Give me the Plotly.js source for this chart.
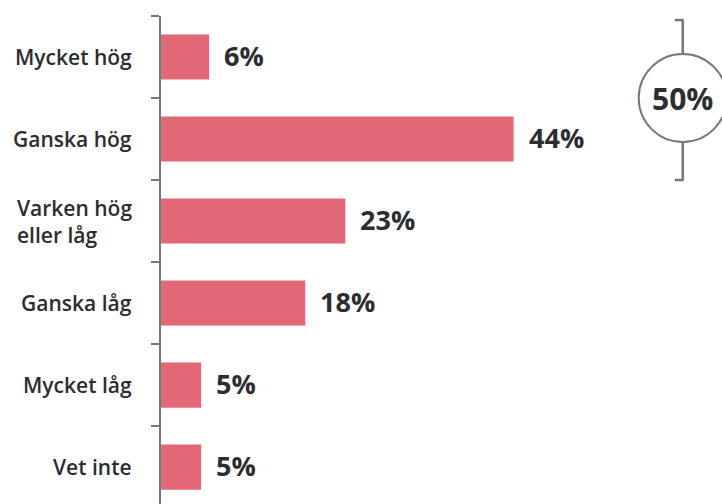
<!DOCTYPE html>
<html><head><meta charset="utf-8">
<script src="https://cdn.plot.ly/plotly-3.0.1.min.js"></script>
<style>body{margin:0;background:#fff}#chart{width:722px;height:504px}</style>
</head><body><div id="chart"></div>
<script>
const categories = ["Mycket hög", "Ganska hög", "Varken hög<br>eller låg", "Ganska låg", "Mycket låg", "Vet inte"];
const values = [6, 44, 23, 18, 5, 5];
const valueLabels = ["6%", "44%", "23%", "18%", "5%", "5%"];
const bracketLabel = "50%";

const FONT = "'Open Sans', Lato, sans-serif";
const DARK = "#2b2d30";
const GRAY = "#76797c";
const BAR = "#e36875";

const idx = categories.map((c,i)=>i);
const trace = {
  type: "bar", orientation: "h",
  x: values, y: idx,
  marker: {color: BAR},
  width: 0.55,
  hoverinfo: "skip"
};

const annotations = [];
categories.forEach((c,i)=>{
  annotations.push({xref:"paper", yref:"y", x:0, y:i, text:c, showarrow:false,
    xanchor:"right", yanchor:"middle", align:"left", xshift:-27,
    font:{family:FONT, size:21, color:DARK, weight:600}});
  annotations.push({xref:"x", yref:"y", x:values[i], y:i, text:valueLabels[i], showarrow:false,
    xanchor:"left", yanchor:"middle", xshift:13, yshift:2,
    font:{family:FONT, size:27, color:DARK, weight:700}});
});
const bx = 65.1;
annotations.push({xref:"x", yref:"y", x:bx, y:0.5, text:bracketLabel, showarrow:false,
  xanchor:"center", yanchor:"middle", font:{family:FONT, size:30, color:DARK, weight:700}});

const shapes = [
  {type:"line", xref:"x", yref:"y", x0:bx, x1:bx, y0:-0.45, y1:1.5, line:{color:GRAY, width:2.5}},
  {type:"line", xref:"x", yref:"y", xsizemode:"pixel", xanchor:bx, x0:-8, x1:1, y0:-0.45, y1:-0.45, line:{color:GRAY, width:2.5}},
  {type:"line", xref:"x", yref:"y", xsizemode:"pixel", xanchor:bx, x0:-8, x1:1, y0:1.5, y1:1.5, line:{color:GRAY, width:2.5}},
  {type:"circle", xref:"x", yref:"y", xsizemode:"pixel", ysizemode:"pixel", xanchor:bx, yanchor:0.5,
   x0:-44, x1:44, y0:-44, y1:44, fillcolor:"#ffffff", line:{color:GRAY, width:2}, layer:"above"}
];

const layout = {
  width:722, height:504,
  margin:{l:161, r:0, t:16, b:0},
  paper_bgcolor:"#fff", plot_bgcolor:"#fff",
  showlegend:false,
  xaxis:{range:[0,70], visible:false, fixedrange:true},
  yaxis:{type:"linear", range:[5.45,-0.5], showgrid:false, zeroline:false,
    showline:true, linecolor:GRAY, linewidth:2.5,
    tickmode:"array", tickvals:[-0.5,0.5,1.5,2.5,3.5,4.5,5.5], ticktext:["","","","","","",""],
    ticks:"outside", ticklen:8, tickwidth:2.5, tickcolor:GRAY, showticklabels:false},
  annotations, shapes,
  bargap:0.45
};
Plotly.newPlot("chart", [trace], layout, {displayModeBar:false, staticPlot:true});
</script></body></html>
